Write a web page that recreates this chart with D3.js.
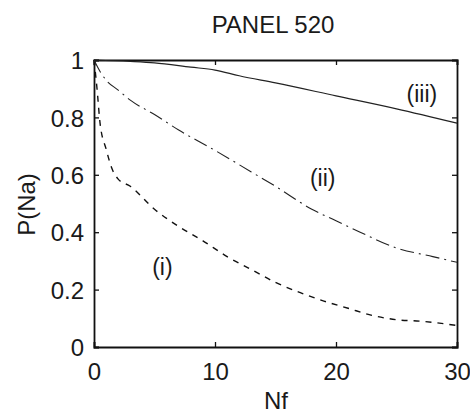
<!DOCTYPE html>
<html>
<head>
<meta charset="utf-8">
<script src="https://cdn.jsdelivr.net/npm/d3@7"></script>
<style>
  body { margin: 0; background: #fff; }
  text { font-family: "Liberation Sans", Arial, sans-serif; fill: #1a1a1a; }
</style>
</head>
<body>
<div id="chart"></div>
<script>
// curve (i) - dashed
const curveI = [
  [0, 1], [0.25, 0.9], [0.5, 0.78], [1, 0.69], [1.5, 0.62], [2, 0.585], [3, 0.56],
  [5, 0.48], [7, 0.42], [9, 0.37], [11, 0.315], [13, 0.27], [15, 0.225], [17, 0.19],
  [19, 0.16], [21, 0.135], [23, 0.11], [25, 0.095], [27, 0.09], [30, 0.075]
];
// curve (ii) - dash dot
const curveII = [
  [0, 1], [0.5, 0.96], [1, 0.93], [2, 0.895], [3, 0.86], [5, 0.81], [7, 0.756],
  [10, 0.685], [13, 0.61], [15, 0.56], [18, 0.48], [20, 0.44], [22, 0.4],
  [25, 0.345], [28, 0.315], [30, 0.295]
];
// curve (iii) - solid
const curveIII = [
  [0, 1], [3, 0.995], [5, 0.99], [8, 0.975], [10, 0.965], [12, 0.945], [15, 0.92],
  [20, 0.875], [25, 0.83], [30, 0.78]
];
const xTicks = [0, 10, 20, 30];
const yTicks = [0, 0.2, 0.4, 0.6, 0.8, 1];
const curveLabels = [
  { text: "(i)", x: 5.65, y: 0.28 },
  { text: "(ii)", x: 18.9, y: 0.59 },
  { text: "(iii)", x: 27.1, y: 0.88 }
];

const W = 470, H = 414;
const margin = { top: 60, right: 13, bottom: 67, left: 94 };
const width = W - margin.left - margin.right,
      height = H - margin.top - margin.bottom;

const svg = d3.select("#chart").append("svg")
  .attr("width", W).attr("height", H);
const g = svg.append("g")
  .attr("transform", "translate(" + margin.left + "," + margin.top + ")");

const x = d3.scaleLinear().domain([0, 30]).range([0, width]);
const y = d3.scaleLinear().domain([0, 1]).range([height, 0]);

// axes with inward ticks, mirrored on all sides
const fmt = d => d3.format("")(d);
g.append("g")
  .attr("transform", "translate(0," + height + ")")
  .call(d3.axisBottom(x).tickValues(xTicks).tickSize(-5).tickPadding(16).tickFormat(fmt))
  .call(a => a.selectAll("text").attr("font-size", 24));
g.append("g")
  .call(d3.axisLeft(y).tickValues(yTicks).tickSize(-5).tickPadding(10).tickFormat(fmt))
  .call(a => a.selectAll("text").attr("font-size", 24).attr("dy", "0.36em"));
g.append("g")
  .call(d3.axisTop(x).tickValues(xTicks).tickSize(-5).tickFormat(""));
g.append("g")
  .attr("transform", "translate(" + width + ",0)")
  .call(d3.axisRight(y).tickValues(yTicks).tickSize(-5).tickFormat(""));
g.selectAll(".domain").attr("stroke", "#111").attr("stroke-width", 1.8);
g.selectAll(".tick line").attr("stroke", "#111").attr("stroke-width", 1.3);

const line = d3.line()
  .x(d => x(d[0]))
  .y(d => y(d[1]))
  .curve(d3.curveMonotoneX);

g.append("path").datum(curveI)
  .attr("d", line).attr("fill", "none").attr("stroke", "#111")
  .attr("stroke-width", 1.4).attr("stroke-dasharray", "6,6");
g.append("path").datum(curveII)
  .attr("d", line).attr("fill", "none").attr("stroke", "#222")
  .attr("stroke-width", 1.1).attr("stroke-dasharray", "14,5,2,5");
g.append("path").datum(curveIII)
  .attr("d", line).attr("fill", "none").attr("stroke", "#222")
  .attr("stroke-width", 1.2);

g.selectAll(".clabel")
  .data(curveLabels)
  .enter()
  .append("text")
    .attr("class", "clabel")
    .attr("x", d => x(d.x))
    .attr("y", d => y(d.y))
    .attr("text-anchor", "middle")
    .attr("dy", "0.35em")
    .attr("font-size", 23)
    .text(d => d.text);

// title and axis labels
svg.append("text")
  .attr("x", 273).attr("y", 33)
  .attr("text-anchor", "middle")
  .attr("font-size", 24)
  .text("PANEL 520");
svg.append("text")
  .attr("x", 276).attr("y", 409)
  .attr("text-anchor", "middle")
  .attr("font-size", 24)
  .text("Nf");
svg.append("text")
  .attr("transform", "translate(35," + (margin.top + y(0.5) + 1) + ") rotate(-90)")
  .attr("text-anchor", "middle")
  .attr("font-size", 24)
  .text("P(Na)");
</script>
</body>
</html>
